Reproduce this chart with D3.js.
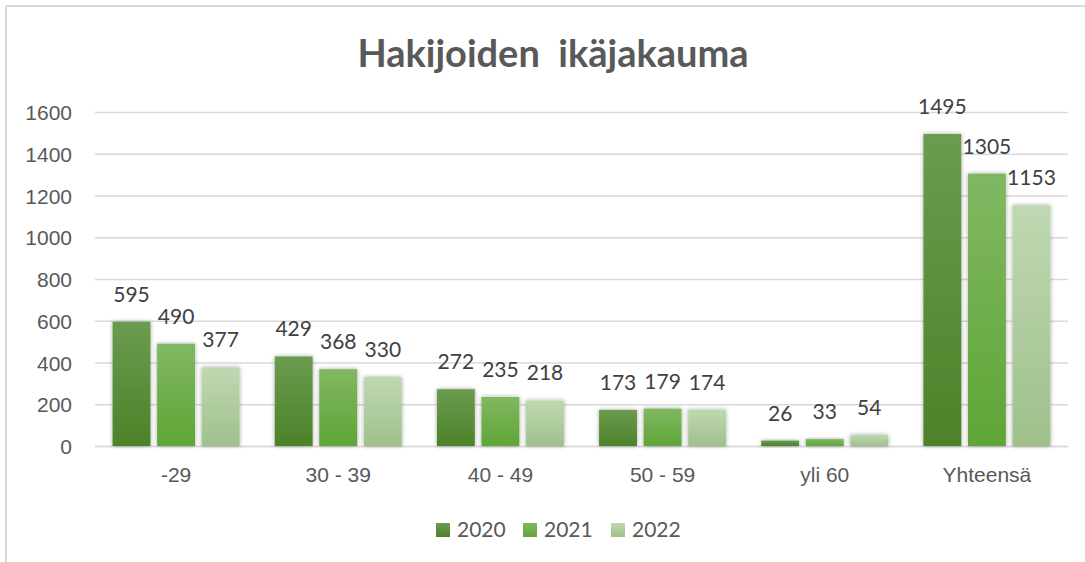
<!DOCTYPE html>
<html><head><meta charset="utf-8">
<script src="https://cdn.jsdelivr.net/npm/d3@7"></script>
<style>
html,body{margin:0;padding:0;background:#fff;}
svg{display:block;font-family:Lato,"Open Sans",sans-serif;}
</style></head>
<body>
<svg id="chart" width="1085" height="562"></svg>
<script>
const categories = ["-29", "30 - 39", "40 - 49", "50 - 59", "yli 60", "Yhteensä"];
const years = ["2020", "2021", "2022"];
const values2020 = [595, 429, 272, 173, 26, 1495];
const values2021 = [490, 368, 235, 179, 33, 1305];
const values2022 = [377, 330, 218, 174, 54, 1153];
const yTicks = [0, 200, 400, 600, 800, 1000, 1200, 1400, 1600];
const titleText = "Hakijoiden  ikäjakauma";

const series = [values2020, values2021, values2022];
const grads = [
  ["#6b9b50", "#4c8228"],
  ["#80b862", "#5fa536"],
  ["#bfd8b2", "#9fc08b"]
];

const svg = d3.select("#chart");
const defs = svg.append("defs");
grads.forEach((g, i) => {
  const lg = defs.append("linearGradient").attr("id", "g" + i)
    .attr("x1", 0).attr("y1", 0).attr("x2", 0).attr("y2", 1);
  lg.append("stop").attr("offset", "0%").attr("stop-color", g[0]);
  lg.append("stop").attr("offset", "100%").attr("stop-color", g[1]);
});
const f = defs.append("filter").attr("id", "sh").attr("x", "-30%").attr("y", "-30%").attr("width", "160%").attr("height", "160%");
f.append("feDropShadow").attr("dx", 0).attr("dy", 0).attr("stdDeviation", 2.2)
  .attr("flood-color", "#000").attr("flood-opacity", 0.35);

// frame
svg.append("line").attr("x1", 6).attr("x2", 1085).attr("y1", 6).attr("y2", 6)
  .attr("stroke", "#d9d9d9").attr("stroke-width", 2);
svg.append("line").attr("x1", 6).attr("x2", 6).attr("y1", 6).attr("y2", 562)
  .attr("stroke", "#d9d9d9").attr("stroke-width", 2);

const x = d3.scaleBand().domain(categories).range([95, 1068]).padding(0);
const y = d3.scaleLinear().domain([0, 1600]).range([446, 112]);
const bw = x.bandwidth();
const groupW = 127;
const x1 = d3.scaleBand().domain(years).range([(bw - groupW) / 2, (bw + groupW) / 2]).paddingInner(0.15).paddingOuter(0);

// gridlines
const yAxis = d3.axisLeft(y).tickValues(yTicks).tickFormat(d3.format("d")).tickSize(-(1068 - 95)).tickPadding(23);
const gy = svg.append("g").attr("transform", "translate(95,0)").call(yAxis);
gy.select(".domain").remove();
gy.selectAll(".tick line").attr("stroke", "#d9d9d9").attr("stroke-width", 1.5);
gy.selectAll(".tick text").attr("fill", "#595959").attr("font-size", "21px")
  .attr("dy", "0.36em");

// x axis
const xAxis = d3.axisBottom(x).tickSize(0).tickPadding(21);
const gx = svg.append("g").attr("transform", "translate(0,446)").call(xAxis);
gx.select(".domain").attr("stroke", "#d9d9d9").attr("stroke-width", 1.5);
gx.selectAll(".tick text").attr("fill", "#595959").attr("font-size", "21px");

// bars
years.forEach((yr, si) => {
  const g = svg.append("g");
  g.selectAll("rect").data(categories).join("rect")
    .attr("x", c => x(c) + x1(yr))
    .attr("width", x1.bandwidth())
    .attr("y", (c, i) => y(series[si][i]))
    .attr("height", (c, i) => y(0) - y(series[si][i]))
    .attr("fill", "url(#g" + si + ")")
    .attr("filter", "url(#sh)");
  g.selectAll("text").data(categories).join("text")
    .attr("x", c => x(c) + x1(yr) + x1.bandwidth() / 2)
    .attr("y", (c, i) => y(series[si][i]) - 20)
    .attr("text-anchor", "middle")
    .attr("fill", "#404040").attr("font-size", "21px")
    .text((c, i) => series[si][i]);
});

// title
svg.append("text").attr("x", 553).attr("y", 67).attr("text-anchor", "middle")
  .attr("fill", "#595959").attr("font-size", "38px").attr("font-weight", "bold")
  .style("white-space", "pre").attr("xml:space", "preserve")
  .text(titleText);

// legend
const legX = [436, 523, 611];
const lg = svg.append("g");
years.forEach((yr, i) => {
  lg.append("rect").attr("x", legX[i]).attr("y", 523).attr("width", 14).attr("height", 14)
    .attr("fill", "url(#g" + i + ")");
  lg.append("text").attr("x", legX[i] + 21).attr("y", 537).attr("fill", "#595959")
    .attr("font-size", "21px").text(yr);
});
</script>
</body></html>
